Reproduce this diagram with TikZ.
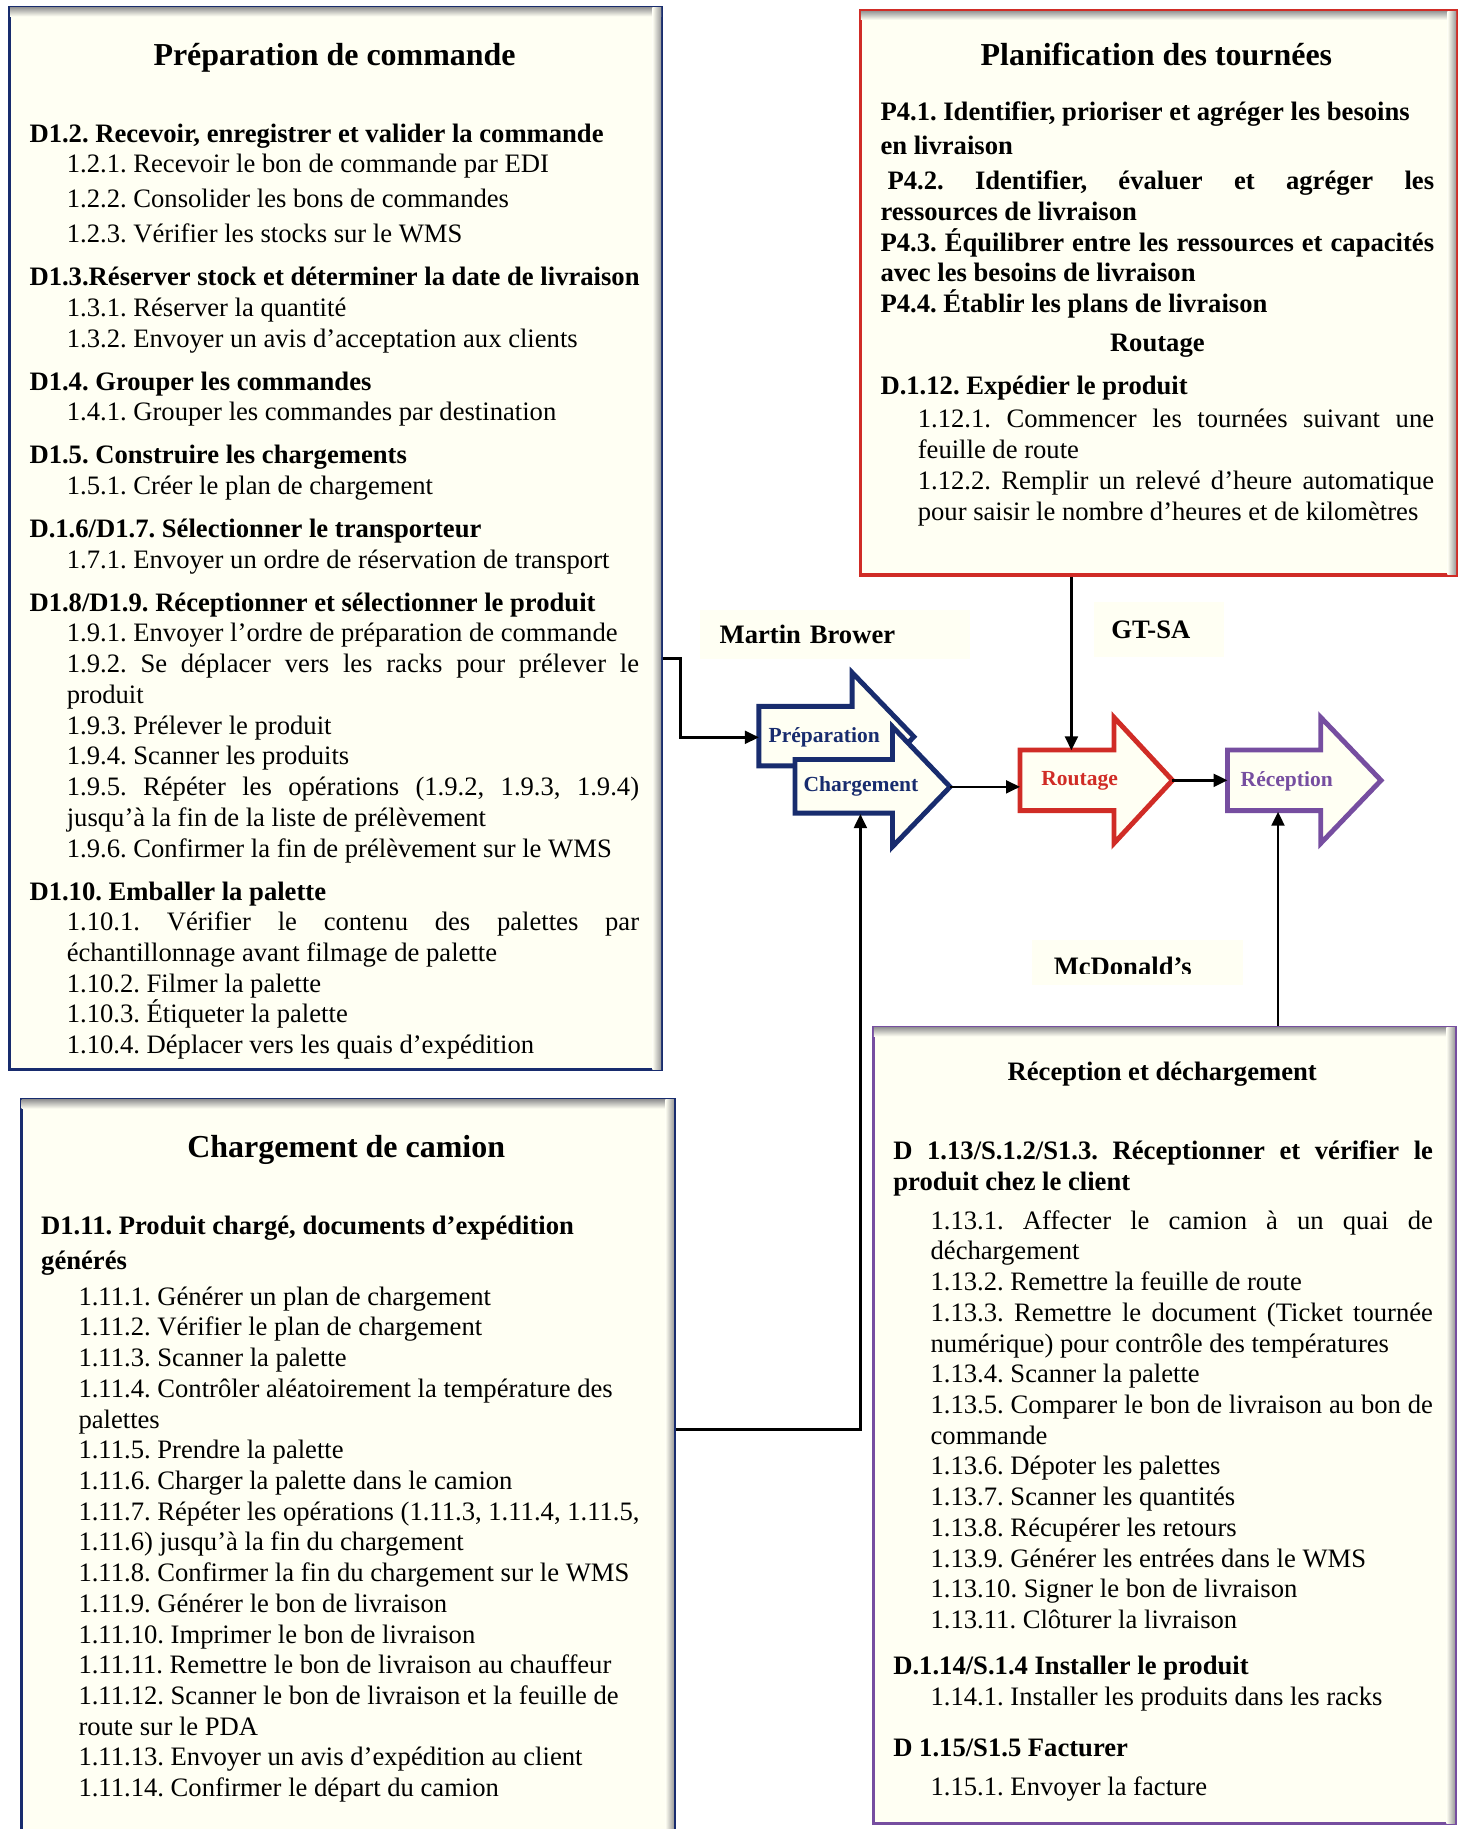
\documentclass[tikz,border=0pt]{standalone}
\usepackage{fontspec}
\setmainfont{Liberation Serif}
\usepackage{xcolor}
\usepackage{tikz}
\usetikzlibrary{arrows.meta}
\frenchspacing

\definecolor{cream}{RGB}{255,255,243}
\definecolor{navy}{RGB}{24,44,110}
\definecolor{tred}{RGB}{208,44,38}
\definecolor{tpurple}{RGB}{118,78,160}

\newcommand{\itemind}{\hspace*{0.64cm}}
\newcommand{\justline}[2]{\makebox[#1][s]{#2}}
\newcommand{\boxshadow}[1]{%
  \shade[top color=black!40,bottom color=cream]
    ([xshift=0.9pt,yshift=-0.9pt]#1.north west) rectangle ([xshift=-0.9pt,yshift=-0.18cm]#1.north east);
  \shade[left color=cream,right color=black!40]
    ([xshift=-0.18cm,yshift=-0.9pt]#1.north east) rectangle ([xshift=-0.9pt,yshift=0.9pt]#1.south east);}

\begin{document}
\begin{tikzpicture}[x=0.02cm,y=-0.02cm,
  every node/.style={inner sep=0pt},
  pbox/.style={rectangle,draw,line width=1.6pt,fill=cream,anchor=north west},
  ptitle/.style={anchor=base,font=\fontsize{15.6}{18}\selectfont\bfseries},
  ptext/.style={anchor=base west,font=\fontsize{13}{15}\selectfont},
  ptag/.style={rectangle,fill=cream,anchor=north west,align=left,font=\fontsize{13}{15}\selectfont\bfseries},
  barrow/.style={line width=2.4pt,fill=cream,line join=miter},
  blabel/.style={anchor=west,align=left,font=\fontsize{10.5}{12}\selectfont\bfseries},
  conn/.style={line width=1.3pt,-{Triangle[length=0.24cm,width=0.22cm]}}]
\useasboundingbox (0,0) rectangle (1255,1569);
\clip (0,0) rectangle (1255,1569);

% the four process boxes
\node[pbox,draw=navy,minimum width=11.18cm,minimum height=18.22cm] (prepbox) at (7,5) {};
\node[pbox,draw=tred,minimum width=10.22cm,minimum height=9.68cm] (planbox) at (737,8) {};
\node[pbox,draw=navy,minimum width=11.2cm,minimum height=14cm] (cambox) at (17,942) {};
\node[pbox,draw=tpurple,minimum width=9.98cm,minimum height=13.66cm] (recbox) at (748,880) {};
\boxshadow{prepbox}
\boxshadow{planbox}
\boxshadow{cambox}
\boxshadow{recbox}

% Preparation de commande
\node[ptitle] (prep-title) at (287,56) {Préparation de commande};
\node[ptext] (prep-text) at (25,122) {\parbox[t]{10.46cm}{\raggedright
\textbf{D1.2. Recevoir, enregistrer et valider la commande}\\
\itemind 1.2.1. Recevoir le bon de commande par EDI\\[2pt]
\itemind 1.2.2. Consolider les bons de commandes\\[2pt]
\itemind 1.2.3. Vérifier les stocks sur le WMS\\[6pt]
\mbox{\textbf{D1.3.Réserver stock et déterminer la date de livraison}}\\
\itemind 1.3.1. Réserver la quantité\\
\itemind 1.3.2. Envoyer un avis d’acceptation aux clients\\[6pt]
\textbf{D1.4. Grouper les commandes}\\
\itemind 1.4.1. Grouper les commandes par destination\\[6pt]
\textbf{D1.5. Construire les chargements}\\
\itemind 1.5.1. Créer le plan de chargement\\[6pt]
\textbf{D.1.6/D1.7. Sélectionner le transporteur}\\
\itemind 1.7.1. Envoyer un ordre de réservation de transport\\[6pt]
\textbf{D1.8/D1.9. Réceptionner et sélectionner le produit}\\
\itemind 1.9.1. Envoyer l’ordre de préparation de commande\\
\itemind\justline{9.82cm}{1.9.2. Se déplacer vers les racks pour prélever le}\\
\itemind produit\\
\itemind 1.9.3. Prélever le produit\\
\itemind 1.9.4. Scanner les produits\\
\itemind\justline{9.82cm}{1.9.5. Répéter les opérations (1.9.2, 1.9.3, 1.9.4)}\\
\itemind jusqu’à la fin de la liste de prélèvement\\
\itemind 1.9.6. Confirmer la fin de prélèvement sur le WMS\\[6pt]
\textbf{D1.10. Emballer la palette}\\
\itemind\justline{9.82cm}{1.10.1. Vérifier le contenu des palettes par}\\
\itemind échantillonnage avant filmage de palette\\
\itemind 1.10.2. Filmer la palette\\
\itemind 1.10.3. Étiqueter la palette\\
\itemind 1.10.4. Déplacer vers les quais d’expédition}};

% Planification des tournees
\node[ptitle] (plan-title) at (992,56) {Planification des tournées};
\node[ptext] (plan-text) at (755,103) {\parbox[t]{9.5cm}{\raggedright
\textbf{P4.1. Identifier, prioriser et agréger les besoins}\\[2pt]
\textbf{en livraison}\\[2pt]
\hspace*{0.12cm}\justline{9.38cm}{\textbf{P4.2. Identifier, évaluer et agréger les}}\\
\textbf{ressources de livraison}\\
\justline{9.5cm}{\textbf{P4.3. Équilibrer entre les ressources et capacités}}\\
\textbf{avec les besoins de livraison}\\
\textbf{P4.4. Établir les plans de livraison}\\[3.8pt]
\makebox[9.5cm]{\textbf{Routage}}\\[6pt]
\textbf{D.1.12. Expédier le produit}\\[1.5pt]
\itemind\justline{8.86cm}{1.12.1. Commencer les tournées suivant une}\\
\itemind feuille de route\\
\itemind\justline{8.86cm}{1.12.2. Remplir un relevé d’heure automatique}\\
\itemind pour saisir le nombre d’heures et de kilomètres}};

% Chargement de camion
\node[ptitle] (cam-title) at (297,993) {Chargement de camion};
\node[ptext] (cam-text) at (35,1059) {\parbox[t]{10.5cm}{\raggedright
\textbf{D1.11. Produit chargé, documents d’expédition}\\[2pt]
\textbf{générés}\\[2.5pt]
\itemind 1.11.1. Générer un plan de chargement\\
\itemind 1.11.2. Vérifier le plan de chargement\\
\itemind 1.11.3. Scanner la palette\\
\itemind 1.11.4. Contrôler aléatoirement la température des\\
\itemind palettes\\
\itemind 1.11.5. Prendre la palette\\
\itemind 1.11.6. Charger la palette dans le camion\\
\itemind 1.11.7. Répéter les opérations (1.11.3, 1.11.4, 1.11.5,\\
\itemind 1.11.6) jusqu’à la fin du chargement\\
\itemind 1.11.8. Confirmer la fin du chargement sur le WMS\\
\itemind 1.11.9. Générer le bon de livraison\\
\itemind 1.11.10. Imprimer le bon de livraison\\
\itemind 1.11.11. Remettre le bon de livraison au chauffeur\\
\itemind 1.11.12. Scanner le bon de livraison et la feuille de\\
\itemind route sur le PDA\\
\itemind 1.11.13. Envoyer un avis d’expédition au client\\
\itemind 1.11.14. Confirmer le départ du camion}};

% Reception et dechargement
\node[ptitle,font=\fontsize{13}{15}\selectfont\bfseries] (rec-title) at (997,927) {Réception et déchargement};
\node[ptext] (rec-text) at (766,995) {\parbox[t]{9.26cm}{\raggedright
\justline{9.26cm}{\textbf{D 1.13/S.1.2/S1.3. Réceptionner et vérifier le}}\\
\textbf{produit chez le client}\\[3.8pt]
\itemind\justline{8.62cm}{1.13.1. Affecter le camion à un quai de}\\
\itemind déchargement\\
\itemind 1.13.2. Remettre la feuille de route\\
\itemind\justline{8.62cm}{1.13.3. Remettre le document (Ticket tournée}\\
\itemind numérique) pour contrôle des températures\\
\itemind 1.13.4. Scanner la palette\\
\itemind\justline{8.62cm}{1.13.5. Comparer le bon de livraison au bon de}\\
\itemind commande\\
\itemind 1.13.6. Dépoter les palettes\\
\itemind 1.13.7. Scanner les quantités\\
\itemind 1.13.8. Récupérer les retours\\
\itemind 1.13.9. Générer les entrées dans le WMS\\
\itemind 1.13.10. Signer le bon de livraison\\
\itemind 1.13.11. Clôturer la livraison\\[7.7pt]
\textbf{D.1.14/S.1.4 Installer le produit}\\
\itemind 1.14.1. Installer les produits dans les racks\\[10pt]
\textbf{D 1.15/S1.5 Facturer}\\[3.8pt]
\itemind 1.15.1. Envoyer la facture}};

% actor tags
\node[ptag,minimum width=4.64cm,minimum height=0.84cm,text width=3.96cm,inner xsep=0.34cm] (mb) at (600,523) {Martin Brower};
\node[ptag,minimum width=2.24cm,minimum height=0.94cm,text width=1.64cm,inner xsep=0.3cm] (gtsa) at (938,516) {GT-SA};
\node[ptag,minimum width=3.62cm,minimum height=0.78cm] (mcd) at (885,806) {};
\begin{scope}
\clip (885,806) rectangle (1066,835.5);
\node[ptext,font=\fontsize{13}{15}\selectfont\bfseries] (mcd-t) at (903.6,837) {McDonald’s};
\end{scope}

% block arrows
\draw[barrow,draw=navy] (651,606) -- (731,606) -- (731,577) -- (784,632) -- (731,687) -- (731,657) -- (651,657) -- cycle;
\node[blabel,text=navy,minimum height=1.02cm,text width=1.28cm,inner xsep=0.16cm] (prep) at (651,632.5) {\mbox{Préparation}};
\draw[barrow,draw=navy] (682,651.5) -- (765.6,651.5) -- (765.6,623.4) -- (815,675) -- (765.6,726.3) -- (765.6,697.5) -- (682,697.5) -- cycle;
\node[blabel,text=navy,minimum height=0.92cm,text width=1.39cm,inner xsep=0.14cm] (chg) at (682,675) {\mbox{Chargement}};
\coordinate (chg-tip) at (815,675);
\draw[barrow,draw=tred] (875,643.4) -- (955.6,643.4) -- (955.6,615.4) -- (1005.8,669.4) -- (955.6,723.4) -- (955.6,695.4) -- (875,695.4) -- cycle;
\node[blabel,text=tred,minimum height=1.04cm,text width=0.89cm,inner xsep=0.36cm] (rout) at (875,670) {\mbox{Routage}};
\coordinate (rout-tip) at (1005.8,669.4);
\draw[barrow,draw=tpurple] (1053,643.4) -- (1133,643.4) -- (1133,615.4) -- (1184.7,669.4) -- (1133,723.4) -- (1133,695.4) -- (1053,695.4) -- cycle;
\node[blabel,text=tpurple,minimum height=1.04cm,text width=1.16cm,inner xsep=0.22cm] (recp) at (1053,670) {\mbox{Réception}};

% connectors
\draw[conn] (prepbox.north east) ++(0,560) -- ++(15,0) |- (prep.west);
\draw[conn] (cambox.north east) ++(0,284) -| ([xshift=0.28cm]chg.south);
\draw[conn] (chg-tip) -- (chg-tip -| rout.west);
\draw[conn] (rout-tip) -- (rout-tip -| recp.west);
\draw[conn] ([xshift=0.07cm]rout.north |- planbox.south) -- ([xshift=0.07cm]rout.north);
\draw[conn] ([xshift=0.06cm]recp.south |- recbox.north) -- ([xshift=0.06cm]recp.south);
\end{tikzpicture}
\end{document}
